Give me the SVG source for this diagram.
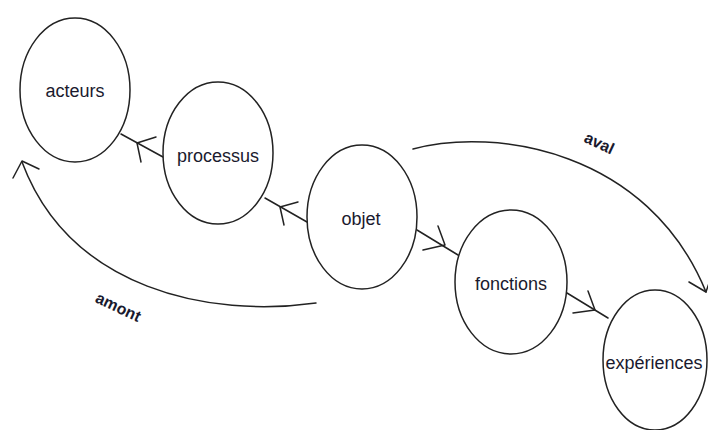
<svg xmlns="http://www.w3.org/2000/svg" width="708" height="430" viewBox="0 0 708 430">
<style>
.node{fill:#fff;stroke:#222;stroke-width:1.5}
.lbl{font-family:"Liberation Sans",Arial,sans-serif;font-size:18px;fill:#1a1a2e;text-anchor:middle}
.edge{fill:none;stroke:#222;stroke-width:1.5;stroke-linecap:round;stroke-linejoin:round}
.elbl{font-family:"Liberation Sans",Arial,sans-serif;font-size:16px;font-weight:bold;fill:#1a1a2e;text-anchor:middle}
</style>
<rect width="708" height="430" fill="#fff"/>
<g id="connectors">
<path class="edge" d="M163,157 L121,134"/>
<polyline class="edge" points="156,137 137,143 141,162"/>
<path class="edge" d="M307,222 L265,198"/>
<polyline class="edge" points="298,202 280,207 284,225"/>
<path class="edge" d="M417,230 L458,255"/>
<polyline class="edge" points="438,226 445,245 423,250"/>
<path class="edge" d="M567,293 L608,318"/>
<polyline class="edge" points="588,291 595,310 573,313"/>
<path class="edge" d="M413,149 C495,127 648,150 706,292"/>
<polyline class="edge" points="689,282 706,292 712,274"/>
<path class="edge" d="M316,303 C210,318 70,290 22,162"/>
<polyline class="edge" points="13,178 22,161 39,169"/>
<text class="elbl" transform="translate(597,148) rotate(25)">aval</text>
<text class="elbl" transform="translate(116,312) rotate(25)">amont</text>
</g>
<g id="acteurs"><ellipse class="node" cx="75" cy="90" rx="55" ry="72"/><text class="lbl" x="75" y="97">acteurs</text></g>
<g id="processus"><ellipse class="node" cx="218" cy="153" rx="55" ry="71"/><text class="lbl" x="218" y="162">processus</text></g>
<g id="objet"><ellipse class="node" cx="362" cy="217" rx="55" ry="72"/><text class="lbl" x="361" y="225">objet</text></g>
<g id="fonctions"><ellipse class="node" cx="511" cy="282" rx="56" ry="72"/><text class="lbl" x="511" y="290">fonctions</text></g>
<g id="experiences"><ellipse class="node" cx="655" cy="360" rx="52" ry="70"/><text class="lbl" x="654" y="369">expériences</text></g>
</svg>
